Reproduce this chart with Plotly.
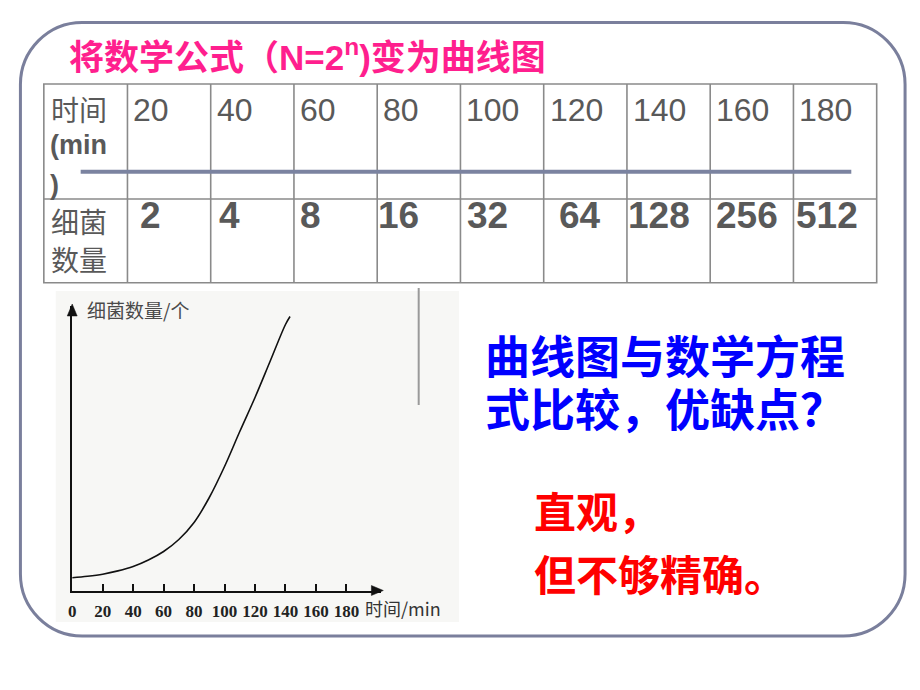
import plotly.graph_objects as go

W, H = 920, 690


def X(px):
    return px / W


def Y(py):
    return 1 - py / H


# ---------------- data ----------------
table_time = [20, 40, 60, 80, 100, 120, 140, 160, 180]
table_bacteria = [2, 4, 8, 16, 32, 64, 128, 256, 512]

curve_time = [0, 10, 20, 30, 40, 50, 60, 70, 80, 90, 100, 110, 120, 130, 140, 143]
curve_count = [12.7, 14.2, 16.3, 19.6, 24, 30.5, 39, 51, 68, 93, 124, 159, 193, 229.5, 266, 274]

x_ticks = [0, 20, 40, 60, 80, 100, 120, 140, 160, 180]

title_text = "将数学公式（N=2<sup>n</sup>)变为曲线图"
blue_lines = ["曲线图与数学方程", "式比较，优缺点？"]
red_lines = ["直观，", "但不够精确。"]

# ---------------- styles ----------------
SANS = "Liberation Sans, Arial, Noto Sans CJK SC"
CJK = "Noto Sans CJK SC, Liberation Sans"
SERIF = "Liberation Serif, Times New Roman, Noto Sans CJK SC"
GRAY_TXT = "#595959"

# chart geometry (pixels)
ax_left, ax_right = 68.5, 378.5
ax_bottom, ax_top = 590.5, 306
px_per_min = 1.53
x_max = (ax_right - ax_left) / px_per_min
y_max = ax_bottom - ax_top

fig = go.Figure()

fig.add_trace(go.Scatter(
    x=curve_time, y=curve_count, mode="lines",
    line=dict(color="#111111", width=1.6, shape="spline", smoothing=1.0),
    hoverinfo="skip", showlegend=False,
))

shapes = []
annotations = []


def rounded_rect(x0, y0, x1, y1, r):
    k = 0.5523 * r
    pts = [
        ("M", [(x0 + r, y0)]),
        ("L", [(x1 - r, y0)]),
        ("C", [(x1 - r + k, y0), (x1, y0 + r - k), (x1, y0 + r)]),
        ("L", [(x1, y1 - r)]),
        ("C", [(x1, y1 - r + k), (x1 - r + k, y1), (x1 - r, y1)]),
        ("L", [(x0 + r, y1)]),
        ("C", [(x0 + r - k, y1), (x0, y1 - r + k), (x0, y1 - r)]),
        ("L", [(x0, y0 + r)]),
        ("C", [(x0, y0 + r - k), (x0 + r - k, y0), (x0 + r, y0)]),
    ]
    s = ""
    for cmd, ps in pts:
        s += cmd + " " + " ".join(f"{X(a):.5f},{Y(b):.5f}" for a, b in ps) + " "
    return s + "Z"


def poly(points):
    return "M " + " L ".join(f"{X(a):.5f},{Y(b):.5f}" for a, b in points) + " Z"


# slide frame
shapes.append(dict(type="path", xref="paper", yref="paper",
                   path=rounded_rect(16.5, 22.5, 905, 636, 62),
                   line=dict(color="#7a7f9c", width=3), layer="below"))

# chart image background
shapes.append(dict(type="rect", xref="paper", yref="paper",
                   x0=X(52), x1=X(457), y0=Y(291), y1=Y(622),
                   fillcolor="#f7f7f5", line=dict(width=0), layer="below"))
# gray vertical stroke in the picture
shapes.append(dict(type="line", xref="paper", yref="paper",
                   x0=X(416.5), x1=X(416.5), y0=Y(288), y1=Y(405),
                   line=dict(color="#9a9a9a", width=2)))

# axis arrowheads
shapes.append(dict(type="path", xref="paper", yref="paper",
                   path=poly([(381, ax_bottom), (369, ax_bottom - 5), (369, ax_bottom + 5)]),
                   fillcolor="#111111", line=dict(color="#111111", width=0.5)))
shapes.append(dict(type="path", xref="paper", yref="paper",
                   path=poly([(ax_left, 304), (ax_left - 5, 316), (ax_left + 5, 316)]),
                   fillcolor="#111111", line=dict(color="#111111", width=0.5)))

# table
t_left, t_right = 40, 876.5
t_top, t_mid, t_bottom = 84, 199, 282.7
col0 = 124
col_w = (t_right - col0) / len(table_time)
line_c = "#8a8a8a"
shapes.append(dict(type="rect", xref="paper", yref="paper",
                   x0=X(t_left), x1=X(t_right), y0=Y(t_top), y1=Y(t_bottom),
                   line=dict(color=line_c, width=1.6)))
shapes.append(dict(type="line", xref="paper", yref="paper",
                   x0=X(t_left), x1=X(t_right), y0=Y(t_mid), y1=Y(t_mid),
                   line=dict(color=line_c, width=1.6)))
for i in range(len(table_time)):
    cx = col0 + i * col_w
    shapes.append(dict(type="line", xref="paper", yref="paper",
                       x0=X(cx), x1=X(cx), y0=Y(t_top), y1=Y(t_bottom),
                       line=dict(color=line_c, width=1.6)))
# thick bar across the first row
shapes.append(dict(type="line", xref="paper", yref="paper",
                   x0=X(77), x1=X(851), y0=Y(171.7), y1=Y(171.7),
                   line=dict(color="#7b83a0", width=4)))


def txt(text, x, y, size, color, family=SANS, xanchor="left", bold=False):
    if bold:
        text = "<b>" + text + "</b>"
    annotations.append(dict(text=text, xref="paper", yref="paper",
                            x=X(x), y=Y(y), xanchor=xanchor, yanchor="middle",
                            showarrow=False, borderpad=0,
                            font=dict(size=size, color=color, family=family)))


# title
txt(title_text, 64, 55, 35, "#ff1f8e", family=SANS + ", " + CJK, bold=True)

# table header column
txt("时间", 46, 109, 28, GRAY_TXT, family=CJK)
txt("(min", 45, 145, 27, GRAY_TXT, family=SANS, bold=True)
txt(")", 45, 185, 27, GRAY_TXT, family=SANS, bold=True)
txt("细菌", 46, 221, 28, GRAY_TXT, family=CJK)
txt("数量", 46, 259, 28, GRAY_TXT, family=CJK)

# first-row values and second-row values
row2_offsets = [16.7, 12, 9.6, 4.5, 11, 19.6, 5, 9.7, 7]
for i, (t, n) in enumerate(zip(table_time, table_bacteria)):
    cx = col0 + i * col_w
    txt(str(t), cx + 5, 110, 32, GRAY_TXT)
    txt(str(n), cx + row2_offsets[i] - 5, 216, 37, GRAY_TXT, bold=True)

# right side texts
for j, s in enumerate(blue_lines):
    txt(s, 482, 354 + j * 53, 45, "#0000ff", family=CJK, bold=True)
for j, s in enumerate(red_lines):
    txt(s, 531, 509 + j * 63, 42, "#ff0000", family=CJK, bold=True)

# chart axis titles
txt("细菌数量/个", 82, 309, 19, "#4a4a4a", family="Noto Sans CJK SC")
txt("时间/min", 362, 608, 18, "#333333", family="Noto Sans CJK SC")

fig.update_layout(
    width=W, height=H,
    margin=dict(l=0, r=0, t=0, b=0),
    paper_bgcolor="white", plot_bgcolor="rgba(0,0,0,0)",
    shapes=shapes, annotations=annotations,
    showlegend=False,
    xaxis=dict(domain=[X(ax_left), X(ax_right)], range=[0, x_max],
               showline=True, linecolor="#111111", linewidth=2.5,
               showgrid=False, zeroline=False,
               ticks="inside", ticklen=7, tickwidth=2, tickcolor="#111111",
               ticklabelstandoff=4,
               tickvals=x_ticks, ticktext=[str(v) for v in x_ticks],
               tickfont=dict(family=SERIF, size=17, color="#222222", weight="bold"),
               fixedrange=True),
    yaxis=dict(domain=[Y(ax_bottom), Y(ax_top)], range=[0, y_max],
               showline=True, linecolor="#111111", linewidth=2.5,
               showgrid=False, zeroline=False, showticklabels=False, ticks="",
               fixedrange=True),
)

fig.write_html("out.html",
               config={"displayModeBar": False, "staticPlot": True},
               post_script="document.body.style.margin='0';document.body.style.overflow='hidden';")
